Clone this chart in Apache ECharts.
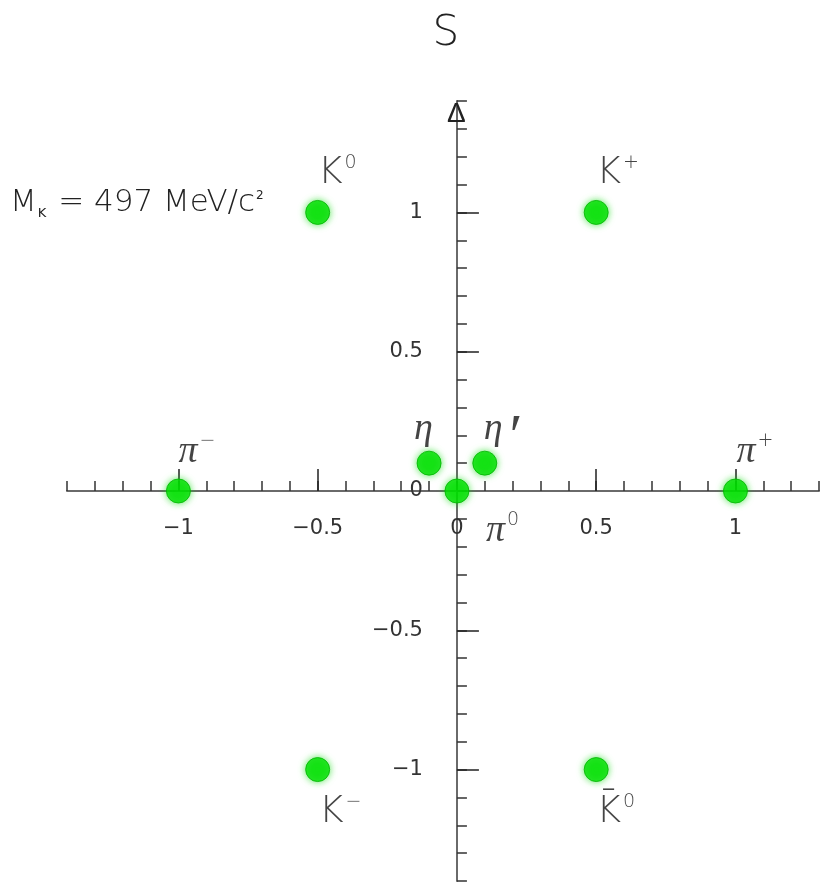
<!DOCTYPE html>
<html>
<head>
<meta charset="utf-8">
<title>Pseudoscalar meson nonet</title>
<script src="https://cdn.jsdelivr.net/npm/echarts@6/dist/echarts.min.js"></script>
<style>
  html, body { margin: 0; padding: 0; background: #ffffff; }
  #chart { width: 820px; height: 883px; }
</style>
</head>
<body>
<div id="chart"></div>
<script>
// Pseudoscalar meson nonet: isospin projection (x) vs strangeness (y)
const particles   = ['K0', 'Kplus', 'piMinus', 'pi0', 'piPlus', 'eta', 'etaPrime', 'Kminus', 'K0bar'];
const isospin     = [-0.5, 0.5, -1, 0, 1, -0.1, 0.1, -0.5, 0.5];
const strangeness = [1, 1, 0, 0, 0, 0.1, 0.1, -1, -1];

const majorTicks = [-1, -0.5, 0.5, 1];
const tickLabels = [-1, -0.5, 0, 0.5, 1];

// Rich-text names for each meson
const particleText = {
  K0:       '{m|K}{s|0}',
  Kplus:    '{m|K}{s|+}',
  piMinus:  '{g|π}{s|−}',
  pi0:      '{g|π}{s|0}',
  piPlus:   '{g|π}{s|+}',
  eta:      '{g|η}',
  etaPrime: '{g|η}{p|′}',
  Kminus:   '{m|K}{s|−}',
  K0bar:    '{m|K\u0304}{s|0}'
};

// Where each name sits relative to its dot (left / bottom of the text box)
const labelOffset = {
  K0: [0, -19], Kplus: [0, -19],
  piMinus: [0, -19], piPlus: [1, -19],
  eta: [-15, -14], etaPrime: [-1, -14],
  pi0: [29, 60],
  Kminus: [1, 63], K0bar: [0, 63]
};

const textColor = '#151515';
const sans = 'DejaVu Sans';
const fmt = v => String(v).replace('-', '\u2212');

const richStyles = {
  m: { fontFamily: sans, fontWeight: 200, fontSize: 38, color: textColor, lineHeight: 40 },
  g: { fontFamily: 'Liberation Serif', fontStyle: 'italic', fontSize: 38, color: textColor, lineHeight: 40 },
  s: { fontFamily: sans, fontWeight: 200, fontSize: 19, color: textColor, verticalAlign: 'top', lineHeight: 40, padding: [0, 0, 0, 2] },
  p: { fontFamily: 'Liberation Serif', fontStyle: 'italic', fontSize: 60, color: textColor, verticalAlign: 'top', lineHeight: 28, padding: [0, 0, 0, 3] }
};

const points = particles.map((name, i) => ({
  name: name,
  value: [isospin[i], strangeness[i]],
  label: { formatter: particleText[name], offset: labelOffset[name] }
}));

const range = { xMin: -1.4, xMax: 1.3, yMin: -1.4, yMax: 1.4 };
const grid = { left: 67, right: 1, top: 101, bottom: 2 };
const size = { width: 820, height: 883 };

// Distance from the grid edge to the zero line on each axis,
// so the labelled axes sit on the crossing lines.
const plotW = size.width - grid.left - grid.right;
const plotH = size.height - grid.top - grid.bottom;
const xZeroFromLeft = plotW * (0 - range.xMin) / (range.xMax - range.xMin);
const yZeroFromBottom = plotH * (0 - range.yMin) / (range.yMax - range.yMin);

function minorAxis(dim) {
  return {
    type: 'value',
    min: dim === 'x' ? range.xMin : range.yMin,
    max: dim === 'x' ? range.xMax : range.yMax,
    interval: 0.1,
    position: dim === 'x' ? 'bottom' : 'left',
    axisLine: { onZero: true, onZeroAxisIndex: 0, lineStyle: { color: '#6a6a6a', width: 2 } },
    axisTick: { show: true, inside: true, length: 10, lineStyle: { color: '#333', width: 1.5 } },
    axisLabel: { show: false },
    splitLine: { show: false }
  };
}

function majorAxis(dim) {
  return {
    type: 'value',
    min: dim === 'x' ? range.xMin : range.yMin,
    max: dim === 'x' ? range.xMax : range.yMax,
    position: dim === 'x' ? 'bottom' : 'left',
    offset: dim === 'x' ? -yZeroFromBottom : -xZeroFromLeft,
    axisLine: { show: false, onZero: false },
    axisTick: { show: true, inside: true, length: 22, customValues: majorTicks, lineStyle: { color: '#222', width: 1.5 } },
    axisLabel: {
      show: true,
      customValues: tickLabels,
      formatter: fmt,
      margin: dim === 'x' ? 27 : 34,
      fontFamily: sans,
      fontSize: 21,
      color: '#333'
    },
    splitLine: { show: false }
  };
}

const chart = echarts.init(document.getElementById('chart'), null, { renderer: 'canvas' });

chart.setOption({
  backgroundColor: '#ffffff',
  animation: false,
  grid: Object.assign({ containLabel: false, outerBoundsMode: 'none' }, grid),
  xAxis: [minorAxis('x'), majorAxis('x')],
  yAxis: [
    Object.assign(minorAxis('y'), {
      name: 'S',
      nameLocation: 'end',
      nameGap: 46,
      nameTextStyle: { fontFamily: sans, fontWeight: 200, fontSize: 42, color: '#222', padding: [0, 22, 0, 0] }
    }),
    majorAxis('y')
  ],
  graphic: [
    {
      type: 'text',
      left: 10,
      top: 186,
      style: {
        text: '{a|M}{b|K}{a| = 497 MeV/c}{c|2}',
        rich: {
          a: { fontFamily: sans, fontWeight: 200, fontSize: 31, fill: '#222', lineHeight: 34 },
          b: { fontFamily: sans, fontSize: 13, fill: '#222', verticalAlign: 'bottom', lineHeight: 34, padding: [0, 2, 0, 1] },
          c: { fontFamily: sans, fontSize: 12, fill: '#222', verticalAlign: 'top', lineHeight: 34, padding: [4, 0, 0, 1] }
        }
      }
    },
    {
      type: 'text',
      left: 447,
      top: 100,
      z: 10,
      style: { text: 'Δ', fontFamily: 'Liberation Sans', fontSize: 28, fill: '#222' }
    }
  ],
  series: [{
    type: 'scatter',
    xAxisIndex: 0,
    yAxisIndex: 0,
    symbol: 'circle',
    symbolSize: 24,
    z: 5,
    itemStyle: {
      color: '#00e000',
      borderColor: '#00b400',
      borderWidth: 1,
      shadowBlur: 7,
      shadowColor: 'rgba(0, 220, 0, 0.75)'
    },
    label: {
      show: true,
      position: 'inside',
      align: 'left',
      verticalAlign: 'bottom',
      rich: richStyles
    },
    emphasis: { disabled: true },
    data: points
  }]
});
</script>
</body>
</html>
